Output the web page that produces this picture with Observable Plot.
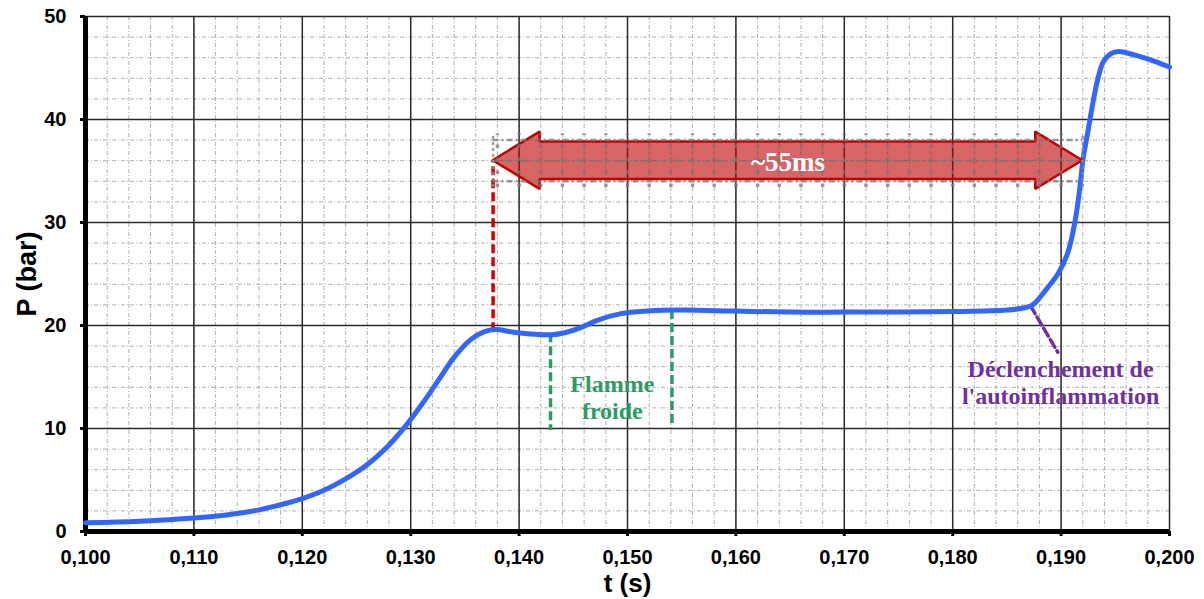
<!DOCTYPE html>
<html>
<head>
<meta charset="utf-8">
<script src="https://cdn.jsdelivr.net/npm/d3@7"></script>
<script src="https://cdn.jsdelivr.net/npm/@observablehq/plot@0.6"></script>
<style>
  html, body { margin: 0; padding: 0; background: #fff; }
  #chart { width: 1204px; height: 599px; }
</style>
</head>
<body>
<div id="chart"></div>
<script>
// ---- Pressure trace: time (s) and pressure (bar) ----
const timeS = [0.100, 0.105, 0.110, 0.113, 0.116, 0.118, 0.120, 0.122, 0.124, 0.126, 0.128, 0.1295, 0.131, 0.1325, 0.134, 0.1355, 0.1368, 0.1378, 0.1395, 0.1415, 0.1430, 0.1442, 0.1457, 0.1472, 0.1494, 0.1518, 0.1550, 0.1600, 0.1650, 0.1700, 0.1750, 0.1800, 0.1850, 0.1865, 0.1872, 0.1876, 0.1887, 0.1897, 0.1906, 0.1913, 0.1918, 0.1920, 0.1925, 0.1930, 0.1934, 0.1939, 0.1946, 0.1953, 0.1970, 0.1985, 0.2000];
const pressureBar = [0.85, 1.0, 1.3, 1.6, 2.1, 2.6, 3.2, 4.0, 5.1, 6.5, 8.4, 10.2, 12.3, 14.6, 16.9, 18.6, 19.4, 19.6, 19.35, 19.15, 19.1, 19.3, 19.8, 20.5, 21.15, 21.4, 21.5, 21.4, 21.3, 21.3, 21.3, 21.35, 21.5, 21.7, 21.9, 22.2, 23.6, 25.0, 27.0, 30.2, 34.0, 36.0, 39.0, 42.0, 44.0, 45.6, 46.4, 46.6, 46.2, 45.7, 45.1];

// ---- Axis ticks ----
const xTicks = [0.100, 0.110, 0.120, 0.130, 0.140, 0.150, 0.160, 0.170, 0.180, 0.190, 0.200];
const yTicks = [0, 10, 20, 30, 40, 50];

// ---- Annotations ----
const delayStartT = 0.1376;   // red dashed marker / left arrow tip
const delayEndT = 0.1920;     // right arrow tip
const arrowP = 36;            // arrow centre line (bar)
const arrowHeadT = 0.00434;   // arrow head length (s)
const arrowBodyHalf = 1.82;   // body half height (bar)
const arrowHeadHalf = 2.78;   // head half height (bar)
const redMarker = [{t: 0.1376, p1: 19.4, p2: 36}];
const greenMarkers = [{t: 0.1429, p1: 19.2, p2: 9.8}, {t: 0.1541, p1: 21.45, p2: 10.1}];
const purpleMarker = [{t: 0.18718, p: 21.9}, {t: 0.1897, p: 17.4}];
const greenLabels = [{t: 0.1486, p: 14.3, text: "Flamme"}, {t: 0.1486, p: 11.7, text: "froide"}];
const purpleLabels = [{t: 0.18995, p: 15.75, text: "Déclenchement de"}, {t: 0.18995, p: 13.1, text: "l'autoinflammation"}];
const delayLabel = [{t: 0.16480, p: 35.8, text: "~55ms"}];

const curve = timeS.map((t, i) => ({t, p: pressureBar[i]}));

const arrowPts = [
  {t: delayStartT, lo: arrowP, hi: arrowP},
  {t: delayStartT + arrowHeadT, lo: arrowP - arrowHeadHalf, hi: arrowP + arrowHeadHalf},
  {t: delayStartT + arrowHeadT, lo: arrowP - arrowBodyHalf, hi: arrowP + arrowBodyHalf},
  {t: delayEndT - arrowHeadT, lo: arrowP - arrowBodyHalf, hi: arrowP + arrowBodyHalf},
  {t: delayEndT - arrowHeadT, lo: arrowP - arrowHeadHalf, hi: arrowP + arrowHeadHalf},
  {t: delayEndT, lo: arrowP, hi: arrowP}
];
const minorX = d3.ticks(0.1, 0.2, 50).filter(t => t > delayStartT && t < delayEndT);
const boxLines = [arrowP - 2, arrowP, arrowP + 2];

const fmt = d => d3.format(".3f")(d).replace(".", ",");
const serif = "'Liberation Serif', 'Times New Roman', serif";

const chart = Plot.plot({
  width: 1204,
  height: 599,
  marginLeft: 85,
  marginRight: 35,
  marginTop: 16,
  marginBottom: 68,
  style: {fontFamily: "'Liberation Sans', Arial, sans-serif", background: "white", overflow: "visible"},
  x: {domain: [0.1, 0.2]},
  y: {domain: [0, 50]},
  marks: [
    // minor grid
    Plot.gridX({ticks: d3.ticks(0.1, 0.2, 50), stroke: "#b0b0b0", strokeOpacity: 1, strokeWidth: 1, strokeDasharray: "4,2,1,2"}),
    Plot.gridY({ticks: d3.ticks(0, 50, 25), stroke: "#b0b0b0", strokeOpacity: 1, strokeWidth: 1, strokeDasharray: "4,2,1,2"}),
    // major grid
    Plot.gridX({ticks: xTicks, stroke: "#2a2a2a", strokeOpacity: 1, strokeWidth: 1.5}),
    Plot.gridY({ticks: yTicks, stroke: "#2a2a2a", strokeOpacity: 1, strokeWidth: 1.5}),
    // axes
    Plot.axisX({ticks: xTicks, tickFormat: fmt, tickSize: 5, tickPadding: 13, strokeWidth: 3, fontSize: 20, fontWeight: "bold", label: null}),
    Plot.axisY({ticks: yTicks, tickSize: 5, tickPadding: 14, strokeWidth: 3, fontSize: 20, fontWeight: "bold", label: null}),
    Plot.ruleX([0.1], {stroke: "black", strokeWidth: 5}),
    Plot.ruleY([0], {stroke: "black", strokeWidth: 5}),
    // annotation markers
    Plot.ruleX(redMarker, {x: "t", y1: "p1", y2: "p2", stroke: "#d40000", strokeWidth: 3.5, strokeDasharray: "9,4"}),
    Plot.ruleX(greenMarkers, {x: "t", y1: "p1", y2: "p2", stroke: "#2e9a64", strokeWidth: 3.5, strokeDasharray: "9,4"}),
    Plot.line(purpleMarker, {x: "t", y: "p", stroke: "#7030a0", strokeWidth: 3.5, strokeDasharray: "9,4"}),
    // pressure curve
    Plot.line(curve, {x: "t", y: "p", stroke: "#3366ff", strokeWidth: 5, curve: "catmull-rom"}),
    // double arrow
    Plot.area(arrowPts, {x1: "t", y1: "lo", y2: "hi", fill: "#c00000", fillOpacity: 0.6, stroke: "#c00000", strokeWidth: 2.5, strokeLinejoin: "miter"}),
    // dotted selection artefacts over the arrow
    Plot.ruleY(boxLines, {x1: delayStartT, x2: delayEndT, stroke: "#7a7a7a", strokeOpacity: 0.75, strokeWidth: 2.5, strokeDasharray: "6,3,2,3"}),
    Plot.ruleX(minorX, {y1: arrowP - 2.6, y2: arrowP + 2.6, stroke: "#7a7a7a", strokeOpacity: 0.75, strokeWidth: 3.5, strokeDasharray: "3.5,9.5"}),
    Plot.ruleX([delayStartT, delayEndT], {y1: arrowP - 2.6, y2: arrowP + 2.6, stroke: "#8a8a8a", strokeOpacity: 0.8, strokeWidth: 2.5, strokeDasharray: "3,3"}),
    // labels
    Plot.text(delayLabel, {x: "t", y: "p", text: "text", fill: "white", fontFamily: serif, fontWeight: "bold", fontSize: 27}),
    Plot.text(greenLabels, {x: "t", y: "p", text: "text", fill: "#2e9a64", fontFamily: serif, fontWeight: "bold", fontSize: 24}),
    Plot.text(purpleLabels, {x: "t", y: "p", text: "text", fill: "#7030a0", fontFamily: serif, fontWeight: "bold", fontSize: 24}),
    // axis titles
    Plot.text(["P (bar)"], {frameAnchor: "left", dx: -58, rotate: -90, textAnchor: "middle", lineAnchor: "middle", fontSize: 27, fontWeight: "bold", fill: "black"}),
    Plot.text(["t (s)"], {frameAnchor: "bottom", dy: 52, textAnchor: "middle", lineAnchor: "middle", fontSize: 26, fontWeight: "bold", fill: "black"})
  ]
});
document.getElementById("chart").appendChild(chart);
</script>
</body>
</html>
